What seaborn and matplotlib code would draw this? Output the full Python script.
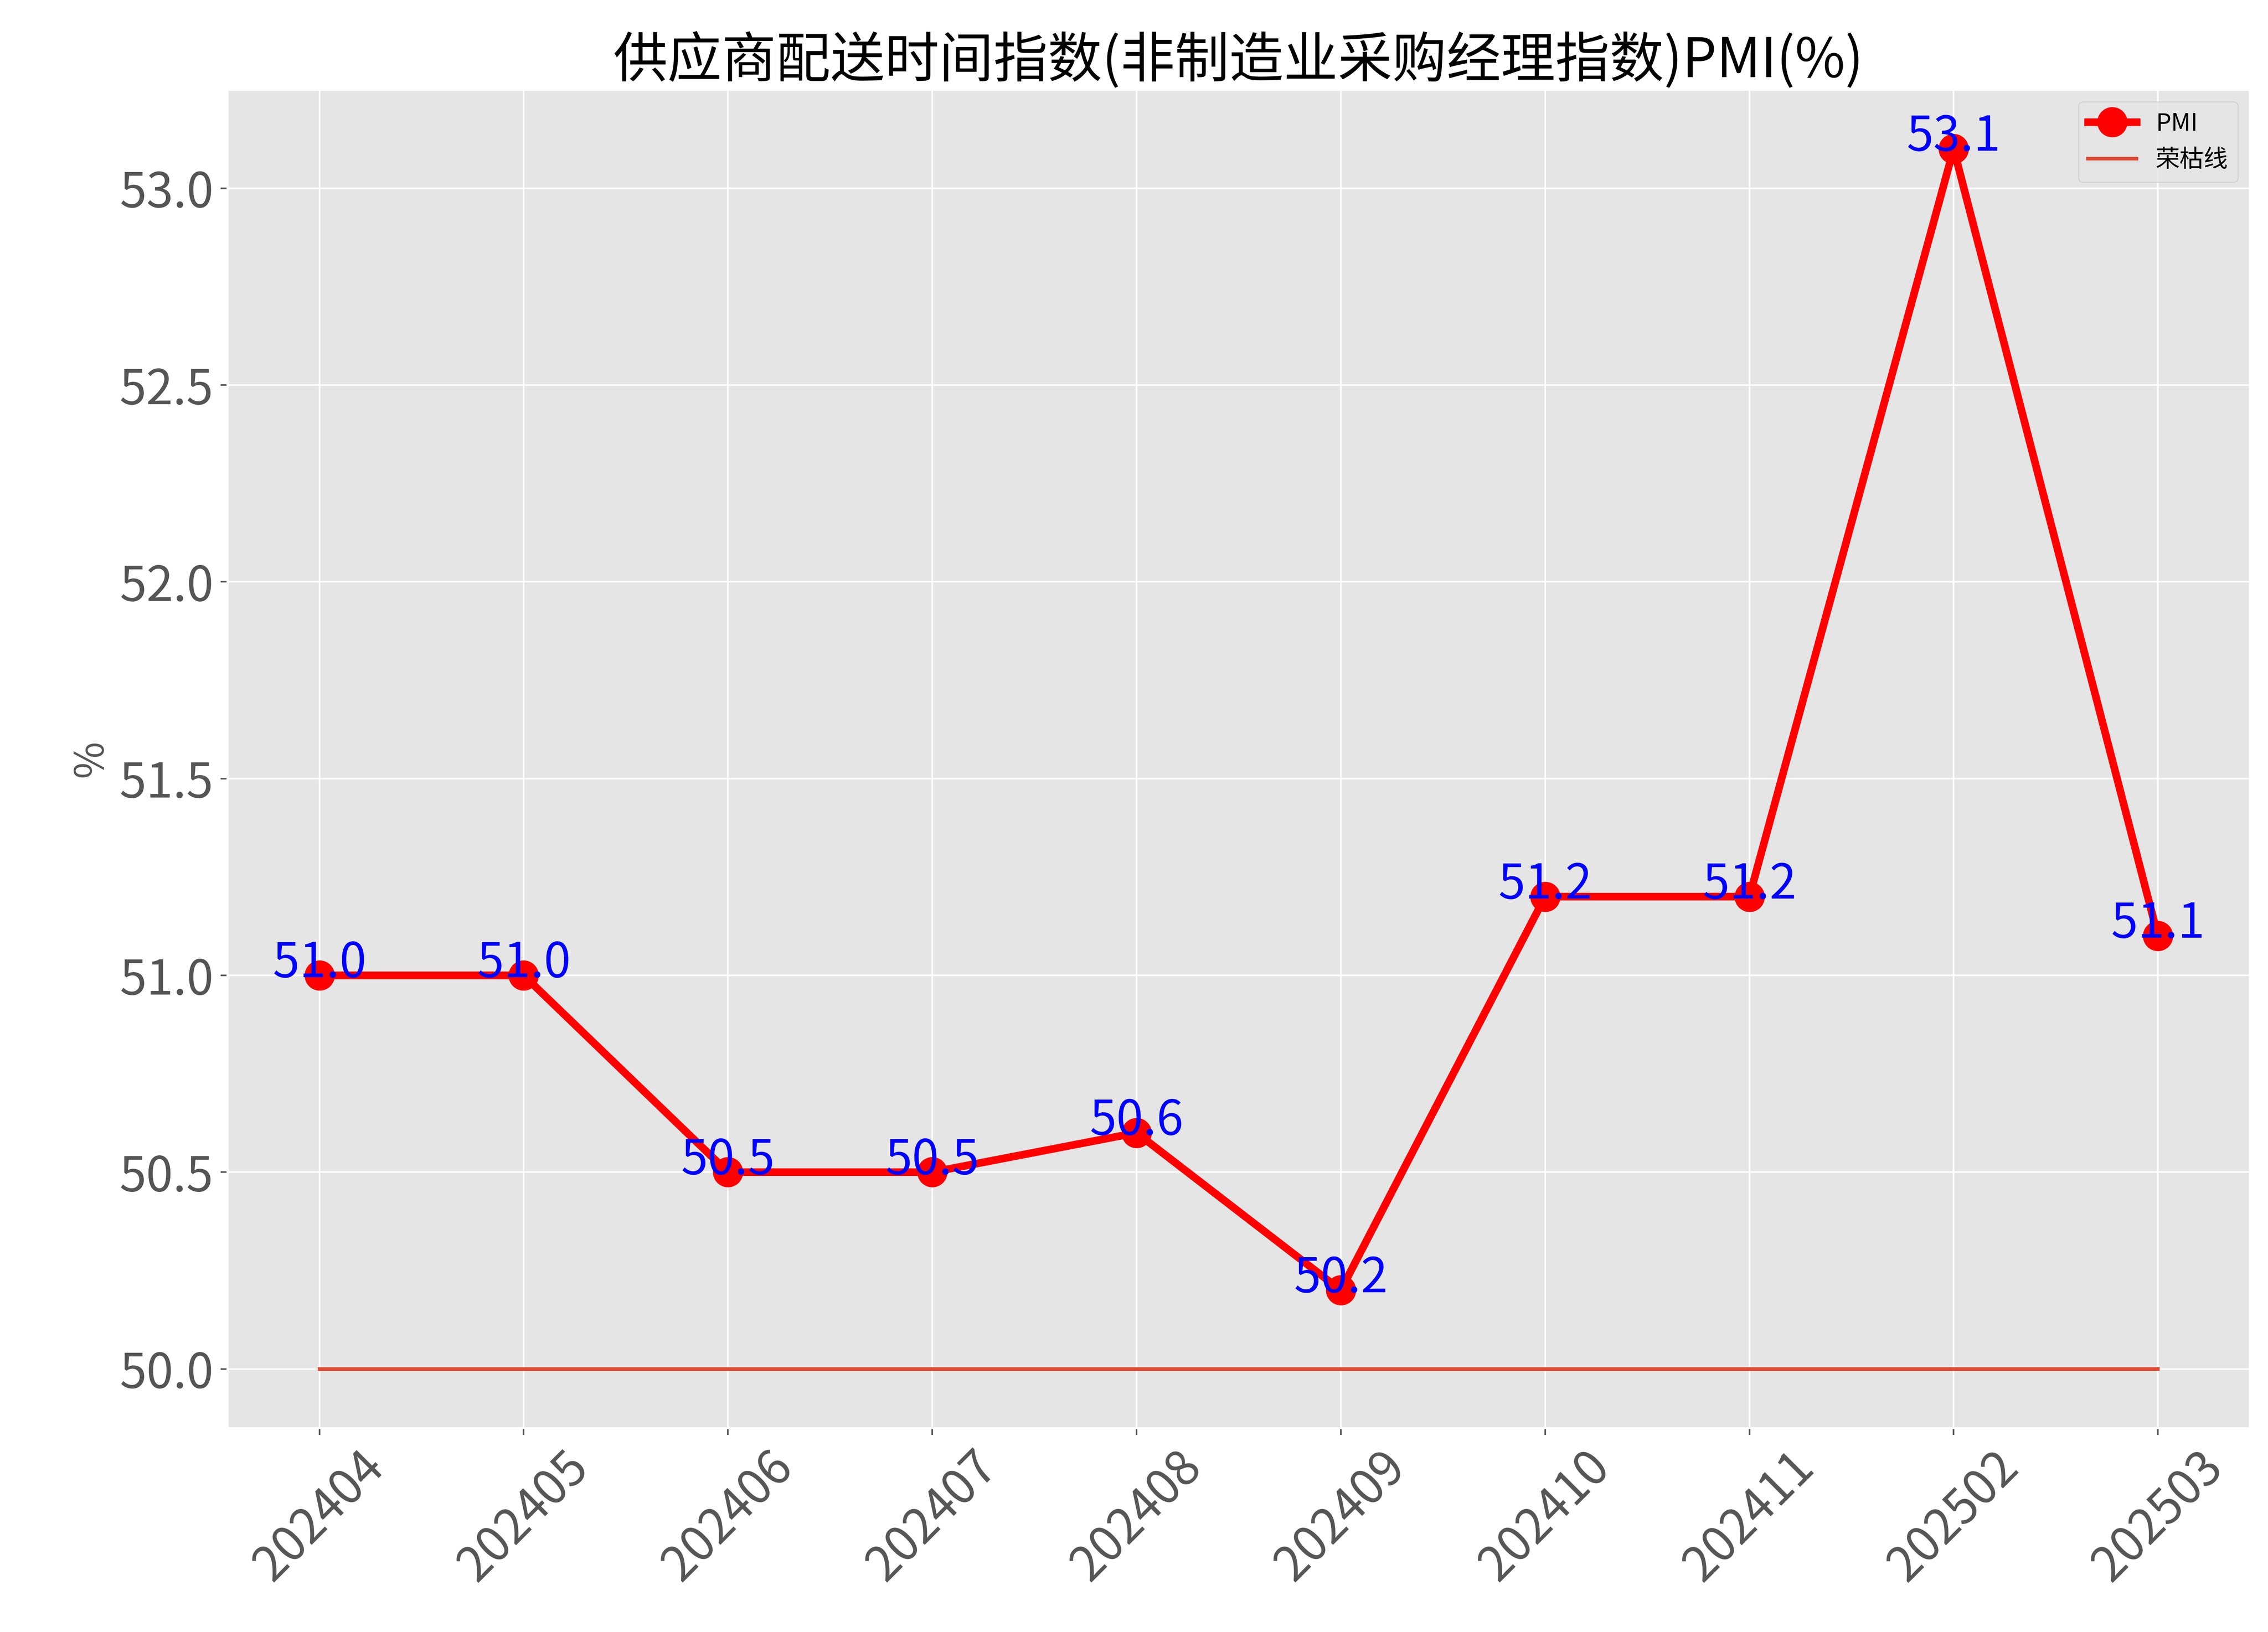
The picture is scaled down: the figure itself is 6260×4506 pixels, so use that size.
import matplotlib
matplotlib.use("Agg")
import matplotlib.pyplot as plt
import seaborn as sns
import pandas as pd

months = ["202404","202405","202406","202407","202408","202409","202410","202411","202502","202503"]
pmi = [51.0, 51.0, 50.5, 50.5, 50.6, 50.2, 51.2, 51.2, 53.1, 51.1]
baseline = [50.0] * len(months)

plt.style.use("ggplot")
plt.rcParams['font.family'] = ['Noto Sans CJK SC', 'DejaVu Sans']
plt.rcParams['axes.unicode_minus'] = False

df = pd.DataFrame({"month": months, "pmi": pmi, "base": baseline, "x": range(len(months))})

fig = plt.figure(figsize=(15.65, 11.265), dpi=400)
ax = fig.add_axes([0.1003, 0.125, 0.8917, 0.82])
sns.lineplot(data=df, x="x", y="pmi", ax=ax, color="red", linewidth=3.8,
             marker="o", markersize=15, markeredgewidth=0, label="PMI")
sns.lineplot(data=df, x="x", y="base", ax=ax, color="#E24A33", linewidth=1.8, label="荣枯线")
for xi, v in zip(df["x"], pmi):
    ax.text(xi, v + 0.03, f"{v:.1f}", color="blue", fontsize=24, ha="center", va="center")
ax.set_xticks(list(df["x"]))
ax.set_xticklabels(months, rotation=45, fontsize=24)
ax.tick_params(axis="y", labelsize=24)
ax.set_yticks([50.0, 50.5, 51.0, 51.5, 52.0, 52.5, 53.0])
ax.set_yticklabels([f"{t:.1f}" for t in [50.0, 50.5, 51.0, 51.5, 52.0, 52.5, 53.0]])
ax.set_ylim(49.85, 53.25)
ax.set_xlabel("")
ax.set_ylabel("%", fontsize=20)
ax.set_title("供应商配送时间指数(非制造业采购经理指数)PMI(%)", fontsize=27, color="black")
ax.legend(loc="upper right", fontsize=12)
fig.savefig("out.png", dpi=400)
